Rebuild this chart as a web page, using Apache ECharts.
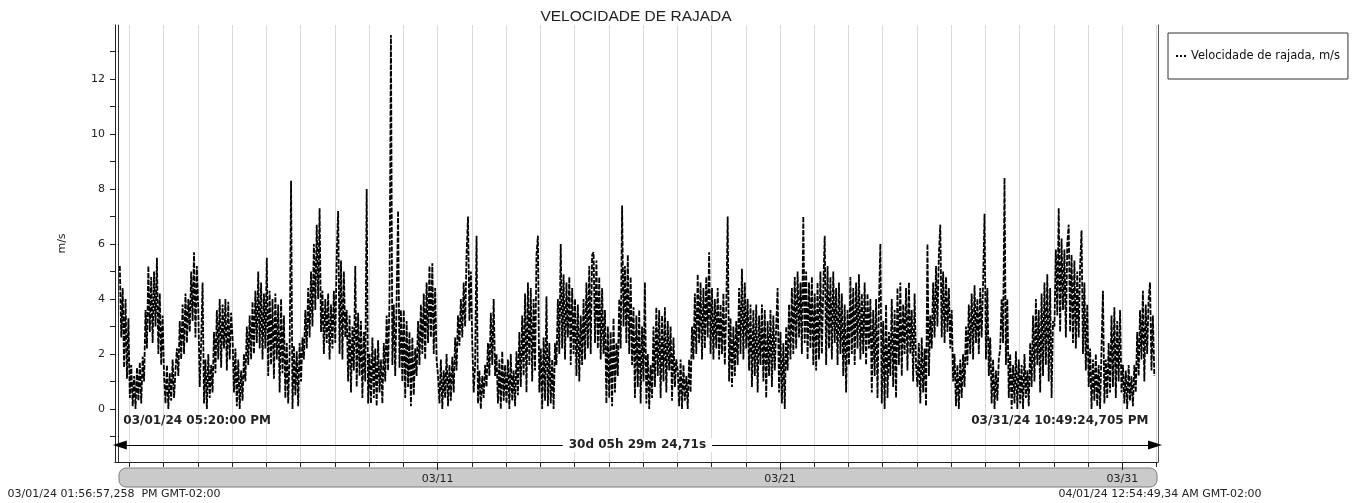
<!DOCTYPE html>
<html>
<head>
<meta charset="utf-8">
<title>Velocidade de rajada</title>
<script src="https://cdn.jsdelivr.net/npm/echarts@6.0.0/dist/echarts.min.js"></script>
<style>
  html, body { margin: 0; padding: 0; background: #fff; }
  #chart { width: 1352px; height: 503px; }
</style>
</head>
<body>
<div id="chart"></div>
<script>
// x values are hours counted from 03/01/24 00:00 (GMT-02:00)
const viewStart = 13.9492;        // 03/01/24 01:56:57,258 PM
const viewEnd = 744.9137;         // 04/01/24 12:54:49,34 AM
const firstSample = 17 + 20 / 60; // 03/01/24 05:20:00 PM, one sample per hour after that
const lastTime = 742.8235;        // 03/31/24 10:49:24,705 PM

const viewStartText = '03/01/24 01:56:57,258  PM GMT-02:00';
const viewEndText = '04/01/24 12:54:49,34 AM GMT-02:00';
const startText = '03/01/24 05:20:00 PM';
const endText = '03/31/24 10:49:24,705 PM';
const durationText = '30d 05h 29m 24,71s';

// gust speed, m/s, hourly
const gustMar01to05 = [
  5.2, 2.6, 4.4, 1.5, 4.0, 1.1, 3.3,
  0.4, 1.6, 0.1, 1.2, 0.0, 1.5, 0.3, 1.7, 0.2, 1.9, 1.0, 3.6, 2.2, 5.2, 2.8, 4.8, 2.4, 5.0, 3.0, 5.5, 2.0, 4.2, 1.6, 3.4,
  1.2, 0.2, 1.6, 0.0, 1.3, 0.3, 1.8, 0.4, 1.4, 2.2, 1.2, 3.2, 1.8, 3.8, 2.0, 4.2, 2.4, 4.0, 2.8, 5.0, 3.2, 5.7, 2.6, 5.2,
  3.6, 0.8, 2.4, 4.6, 0.2, 1.8, 0.0, 2.0, 0.4, 1.6, 0.6, 2.8, 1.3, 3.6, 1.8, 4.0, 1.5, 3.8, 2.2, 4.0, 1.4, 3.9, 1.8, 3.5,
  2.6, 0.6, 2.2, 0.1, 1.8, 0.0, 1.4, 0.3, 2.0, 1.0, 3.0, 1.6, 3.4, 1.8, 3.9, 2.0, 4.3, 2.4, 5.0, 2.2, 4.6, 1.8, 4.2, 2.2
];
const gustMar06to12 = [
  5.5, 1.2, 4.3, 1.6, 4.0, 1.1, 4.2, 1.8, 3.8, 0.6, 4.0, 1.3, 3.4, 0.4, 2.4, 0.2, 2.0, 8.3, 0.0, 2.3, 0.5, 2.1, 0.1, 2.4,
  1.0, 2.6, 1.8, 3.6, 2.2, 4.4, 2.6, 5.0, 3.0, 6.0, 3.6, 6.7, 4.0, 7.3, 2.8, 4.3, 2.0, 4.0, 2.4, 4.2, 1.8, 3.8, 2.2, 4.3,
  2.4, 5.6, 7.2, 2.0, 5.4, 1.8, 5.0, 2.6, 3.6, 1.0, 3.4, 0.6, 3.0, 1.4, 5.2, 0.8, 3.5, 1.2, 3.2, 0.4, 2.8, 1.0, 8.0, 0.2,
  2.0, 0.2, 2.6, 0.4, 2.2, 0.1, 2.5, 0.6, 1.8, 0.2, 2.4, 1.0, 3.4, 1.4, 4.0, 13.6, 1.6, 3.8, 1.2, 4.0, 7.2, 1.5, 3.6, 1.0,
  3.6, 0.4, 3.2, 0.8, 2.8, 0.1, 2.6, 0.5, 2.2, 1.2, 3.2, 1.6, 3.8, 2.0, 4.2, 1.8, 4.6, 2.4, 5.2, 2.6, 5.3, 2.0, 4.4, 1.8,
  1.2, 0.2, 1.8, 0.0, 1.4, 0.4, 2.0, 0.1, 1.6, 0.3, 1.9, 0.6, 2.6, 1.4, 3.4, 2.3, 4.0, 2.6, 4.6, 3.0, 5.6, 7.0, 3.2, 5.0,
  2.4, 0.6, 1.6, 6.3, 0.2, 1.4, 0.0, 1.2, 0.4, 1.6, 0.8, 2.4, 1.2, 3.5, 1.6, 4.0, 1.2, 2.0, 0.2, 1.8, 0.0, 2.1, 0.3, 1.6
];
const gustMar13to19 = [
  0.2, 1.8, 0.0, 2.0, 0.3, 1.4, 0.1, 2.1, 0.5, 2.8, 0.8, 3.4, 1.2, 4.2, 0.6, 4.6, 1.6, 4.4, 1.0, 4.0, 1.4, 5.6, 6.3, 0.6,
  2.2, 0.0, 2.6, 0.3, 4.1, 0.1, 2.4, 0.2, 1.8, 0.0, 2.4, 1.6, 4.0, 2.0, 6.0, 2.2, 4.9, 1.8, 4.6, 2.6, 4.8, 1.6, 4.4, 2.0,
  4.0, 1.2, 3.8, 1.0, 3.4, 1.6, 4.0, 1.8, 4.6, 2.2, 5.2, 2.0, 5.6, 5.7, 2.4, 5.4, 2.2, 4.8, 1.8, 4.4, 2.0, 3.6, 0.2, 3.0,
  0.4, 2.8, 0.1, 3.3, 0.6, 2.4, 1.2, 4.0, 2.2, 7.4, 3.0, 5.2, 2.4, 5.6, 2.0, 4.8, 1.6, 3.7, 0.4, 3.4, 0.8, 3.6, 0.2, 3.0,
  1.0, 4.6, 0.2, 2.0, 0.0, 1.6, 0.4, 3.0, 0.8, 3.7, 1.2, 3.6, 0.4, 3.4, 1.0, 3.7, 0.6, 3.2, 1.4, 3.0, 0.3, 2.6, 0.8, 1.8,
  1.4, 0.1, 1.8, 0.0, 1.6, 0.3, 1.2, 0.0, 1.8, 0.6, 3.0, 1.8, 4.2, 2.0, 4.9, 2.4, 4.6, 1.8, 4.4, 2.2, 4.8, 2.6, 5.7, 2.0,
  4.4, 1.8, 4.0, 2.2, 4.4, 1.8, 3.8, 2.0, 4.2, 1.6, 3.6, 7.0, 1.0, 3.3, 0.8, 3.0, 1.2, 3.2, 1.6, 4.4, 2.0, 5.1, 1.8, 4.6
];
const gustMar20to26 = [
  2.2, 4.0, 1.4, 3.8, 0.8, 3.6, 1.2, 3.8, 0.6, 3.4, 1.6, 3.8, 1.0, 3.6, 0.4, 3.2, 1.2, 3.6, 0.8, 3.4, 1.4, 3.0, 4.4, 0.6,
  2.8, 0.2, 2.4, 0.0, 3.0, 1.4, 3.8, 1.8, 4.4, 2.0, 4.8, 2.2, 5.0, 2.6, 4.6, 2.0, 7.0, 2.4, 5.0, 1.8, 4.6, 2.2, 4.8, 1.6,
  4.2, 1.4, 4.6, 1.8, 5.0, 2.0, 4.4, 6.3, 1.6, 5.2, 2.2, 4.8, 1.8, 5.0, 2.4, 4.4, 1.6, 4.6, 2.0, 4.2, 1.2, 3.8, 0.6, 3.6,
  1.6, 4.8, 2.0, 4.4, 1.6, 4.6, 2.2, 4.9, 1.8, 4.2, 2.0, 4.6, 1.6, 4.2, 2.2, 4.0, 0.6, 3.6, 1.2, 4.0, 0.4, 3.8, 6.0, 0.2,
  3.2, 0.0, 3.8, 0.4, 2.8, 1.2, 4.0, 0.8, 3.6, 0.4, 4.4, 1.6, 4.6, 1.2, 3.8, 2.0, 4.4, 1.4, 4.6, 2.0, 3.6, 1.0, 4.2, 1.6,
  0.8, 2.4, 0.2, 2.6, 0.6, 2.2, 0.1, 6.0, 1.2, 3.4, 2.2, 4.6, 2.6, 5.2, 3.0, 5.6, 6.7, 2.6, 5.0, 2.4, 4.8, 2.8, 4.4, 2.2,
  3.6, 1.0, 2.0, 0.1, 1.6, 0.0, 1.8, 0.4, 2.0, 0.8, 3.0, 1.6, 3.8, 2.0, 4.2, 1.8, 4.5, 2.4, 4.0, 2.0, 4.4, 2.6, 4.6, 7.1
];
const gustMar27to31 = [
  1.8, 4.4, 1.2, 2.6, 0.2, 1.8, 0.0, 1.4, 0.3, 1.8, 2.2, 4.0, 2.4, 8.4, 1.6, 4.0, 0.4, 2.0, 0.0, 1.6, 0.2, 2.1, 0.0, 1.8,
  0.2, 1.6, 0.0, 2.0, 0.4, 1.4, 0.1, 2.4, 0.8, 3.4, 1.0, 4.0, 1.6, 3.6, 0.6, 4.2, 1.2, 4.6, 1.6, 4.9, 1.0, 4.4, 0.4, 3.2,
  3.0, 5.8, 3.4, 7.3, 2.8, 6.2, 3.6, 5.8, 2.6, 6.0, 6.7, 2.8, 5.6, 2.4, 5.4, 2.2, 5.0, 2.6, 5.2, 6.5, 2.0, 4.6, 1.4, 3.8,
  0.8, 2.2, 0.0, 1.8, 0.3, 2.0, 0.1, 1.6, 0.0, 2.2, 4.3, 0.2, 1.8, 0.4, 2.4, 0.6, 3.4, 0.8, 3.7, 0.4, 3.2, 1.0, 3.6, 0.6,
  1.6, 0.2, 1.4, 0.0, 1.6, 0.3, 1.2, 0.1, 1.6, 0.6, 2.8, 1.2, 3.6, 1.8, 4.3, 1.0, 3.8, 2.0, 4.0, 4.6, 1.4, 3.4, 1.2
];

const yTicks = [0, 2, 4, 6, 8, 10, 12];
const yMinorTicks = [-1, 1, 3, 5, 7, 9, 11, 13];
const xLabelHours = [240, 480, 720];
const xTickLabels = ['03/11', '03/21', '03/31'];

const yMin = -1.93;
const yMax = 13.96;
const arrowY = -1.31;
const stampY = -0.44;

const gust = [].concat(gustMar01to05, gustMar06to12, gustMar13to19, gustMar20to26, gustMar27to31);
const seriesData = gust.map((v, i) => [firstSample + i, v]);

// midnights 03/02 .. 04/01
const dayTicks = [];
for (let h = 24; h <= 744; h += 24) dayTicks.push(h);

const ink = '#222';
const boldLabel = { fontFamily: 'DejaVu Sans', fontSize: 12, fontWeight: 'bold', color: ink };

const chart = echarts.init(document.getElementById('chart'));
chart.setOption({
  animation: false,
  textStyle: { fontFamily: 'DejaVu Sans' },
  grid: { left: 115, right: 194, top: 25, bottom: 41 },
  legend: {
    left: 1168,
    top: 33,
    orient: 'vertical',
    padding: [17, 8, 17, 8],
    borderColor: '#333',
    borderWidth: 1,
    itemWidth: 10,
    itemHeight: 2,
    selectedMode: false,
    icon: 'path://M0,0h2v2h-2zM4,0h2v2h-2zM8,0h2v2h-2z',
    textStyle: { fontSize: 11.5, color: '#111' },
    data: ['Velocidade de rajada, m/s']
  },
  xAxis: [
    {
      type: 'value',
      position: 'bottom',
      min: viewStart,
      max: viewEnd,
      z: 0,
      axisLine: { show: true, onZero: false, lineStyle: { color: ink } },
      axisTick: { show: true, customValues: dayTicks, length: 5, lineStyle: { color: ink } },
      axisLabel: { show: false },
      splitLine: { show: true, lineStyle: { color: '#d9d9d9', width: 1 } }
    },
    {
      type: 'value',
      position: 'bottom',
      min: viewStart,
      max: viewEnd,
      z: 10,
      axisLine: { show: false, onZero: false },
      axisTick: { show: true, customValues: xLabelHours, length: 8, lineStyle: { color: ink } },
      axisLabel: {
        customValues: xLabelHours,
        formatter: v => xTickLabels[xLabelHours.indexOf(v)],
        margin: 12,
        fontSize: 11,
        color: ink
      },
      splitLine: { show: false }
    }
  ],
  yAxis: [
    {
      type: 'value',
      position: 'left',
      min: yMin,
      max: yMax,
      name: 'm/s',
      nameLocation: 'middle',
      nameGap: 47,
      nameRotate: 90,
      nameTextStyle: { fontSize: 11, color: ink },
      axisLine: { show: true, onZero: false, lineStyle: { color: ink } },
      axisTick: { show: true, customValues: yTicks, length: 5, lineStyle: { color: ink } },
      axisLabel: { customValues: yTicks, margin: 10, fontSize: 11, color: ink },
      splitLine: { show: false }
    },
    {
      type: 'value',
      position: 'left',
      min: yMin,
      max: yMax,
      axisLine: { show: false, onZero: false },
      axisTick: { show: true, customValues: yMinorTicks, length: 5, lineStyle: { color: ink } },
      axisLabel: { show: false },
      splitLine: { show: false }
    },
    {
      type: 'value',
      position: 'left',
      offset: -3,
      min: yMin,
      max: yMax,
      axisLine: { show: true, onZero: false, lineStyle: { color: '#333' } },
      axisTick: { show: false },
      axisLabel: { show: false },
      splitLine: { show: false }
    },
    {
      type: 'value',
      position: 'right',
      min: yMin,
      max: yMax,
      axisLine: { show: true, onZero: false, lineStyle: { color: '#555' } },
      axisTick: { show: false },
      axisLabel: { show: false },
      splitLine: { show: false }
    }
  ],
  graphic: [
    {
      type: 'rect',
      z: -1,
      shape: { x: 119, y: 468, width: 1038, height: 19, r: 7 },
      style: { fill: '#cacaca', stroke: '#7d7d7d', lineWidth: 1 }
    },
    {
      type: 'text',
      style: {
        x: 636, y: 17, text: 'VELOCIDADE DE RAJADA',
        font: '15.5px "Liberation Sans", Arial, sans-serif',
        fill: ink, align: 'center', verticalAlign: 'middle'
      }
    },
    {
      type: 'text',
      style: {
        x: 114, y: 494, text: viewStartText,
        font: '11px "DejaVu Sans", sans-serif',
        fill: ink, align: 'center', verticalAlign: 'middle'
      }
    },
    {
      type: 'text',
      style: {
        x: 1160, y: 494, text: viewEndText,
        font: '11px "DejaVu Sans", sans-serif',
        fill: ink, align: 'center', verticalAlign: 'middle'
      }
    }
  ],
  series: [
    {
      name: 'Velocidade de rajada, m/s',
      type: 'line',
      xAxisIndex: 0,
      yAxisIndex: 0,
      data: seriesData,
      showSymbol: false,
      symbol: 'none',
      silent: true,
      z: 3,
      itemStyle: { color: '#000' },
      lineStyle: { color: '#000', width: 1.8, type: [5, 1.5] },
      markLine: {
        silent: true,
        symbol: ['triangle', 'triangle'],
        symbolSize: [9, 14],
        lineStyle: { color: '#000', width: 1, type: 'solid' },
        label: Object.assign({
          show: true,
          position: 'middle',
          verticalAlign: 'middle',
          distance: 0,
          formatter: durationText,
          backgroundColor: '#fff',
          padding: [1, 6]
        }, boldLabel),
        data: [[{ coord: [firstSample, arrowY] }, { coord: [lastTime, arrowY] }]]
      },
      markPoint: {
        silent: true,
        symbol: 'rect',
        symbolSize: 1,
        itemStyle: { color: 'rgba(0,0,0,0)' },
        data: [
          { coord: [firstSample, stampY], label: Object.assign({ show: true, formatter: startText, position: 'right', distance: 3 }, boldLabel) },
          { coord: [lastTime, stampY], label: Object.assign({ show: true, formatter: endText, position: 'left', distance: 6 }, boldLabel) }
        ]
      }
    }
  ]
});
</script>
</body>
</html>
